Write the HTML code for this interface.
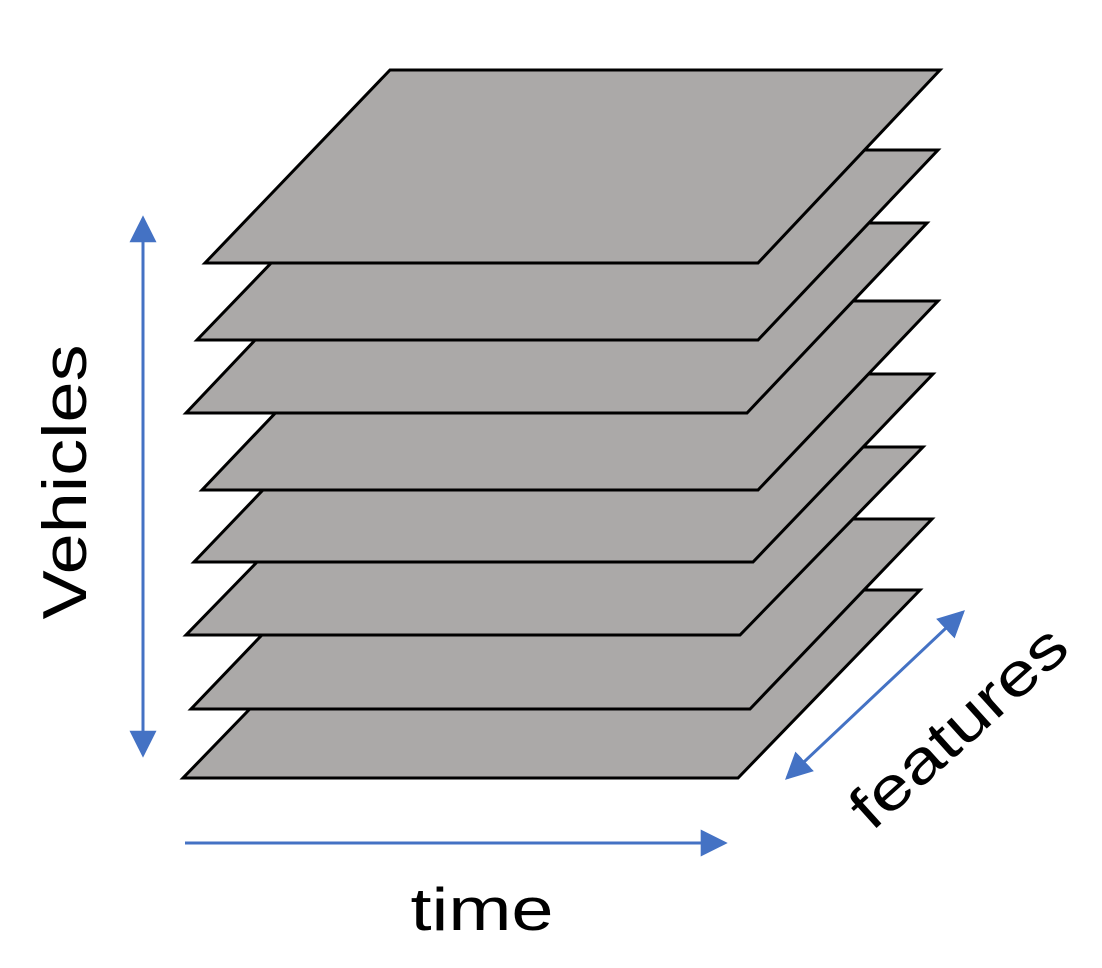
<!DOCTYPE html>
<html><head><meta charset="utf-8"><style>html,body{margin:0;padding:0;background:#fff}svg{display:block}</style></head>
<body>
<svg width="1102" height="968" viewBox="0 0 1102 968" xmlns="http://www.w3.org/2000/svg">
<defs>
<marker id="ah" viewBox="0 0 10 10" refX="9" refY="5" markerWidth="9" markerHeight="10" orient="auto-start-reverse" markerUnits="strokeWidth">
<path d="M0,0 L10,5 L0,10 z" fill="#4472C4"/>
</marker>
</defs>
<g fill="#ABA9A8" stroke="#000" stroke-width="3" stroke-linejoin="miter">
<polygon points="365,590 920,590 738,778 183,778"/>
<polygon points="373,519 932,519 750,709 191,709"/>
<polygon points="369,447 923,447 740,635 186,635"/>
<polygon points="374,374 933,374 753,562 194,562"/>
<polygon points="382,301 938,301 758,490 202,490"/>
<polygon points="366,223 927,223 747,413 186,413"/>
<polygon points="380,150 938,150 758,340 197,340"/>
<polygon points="390,70 940,70 758,263 205,263"/>
</g>
<g stroke="#4472C4" stroke-width="3" fill="none">
<line x1="143" y1="218" x2="143" y2="755" marker-start="url(#ah)" marker-end="url(#ah)"/>
<line x1="185" y1="843" x2="725" y2="843" marker-end="url(#ah)"/>
<line x1="787" y1="778" x2="963" y2="612" marker-start="url(#ah)" marker-end="url(#ah)"/>
</g>
<g font-family="Liberation Sans, sans-serif" fill="#000">
<text x="0" y="0" font-size="62" text-anchor="middle" textLength="275" lengthAdjust="spacingAndGlyphs" transform="translate(86,482) rotate(-90)">Vehicles</text>
<text x="482" y="930" font-size="60" text-anchor="middle" textLength="143" lengthAdjust="spacingAndGlyphs">time</text>
<text x="0" y="0" font-size="60" text-anchor="middle" textLength="270" lengthAdjust="spacingAndGlyphs" transform="translate(972,742) rotate(-42)">features</text>
</g>
</svg>
</body></html>
